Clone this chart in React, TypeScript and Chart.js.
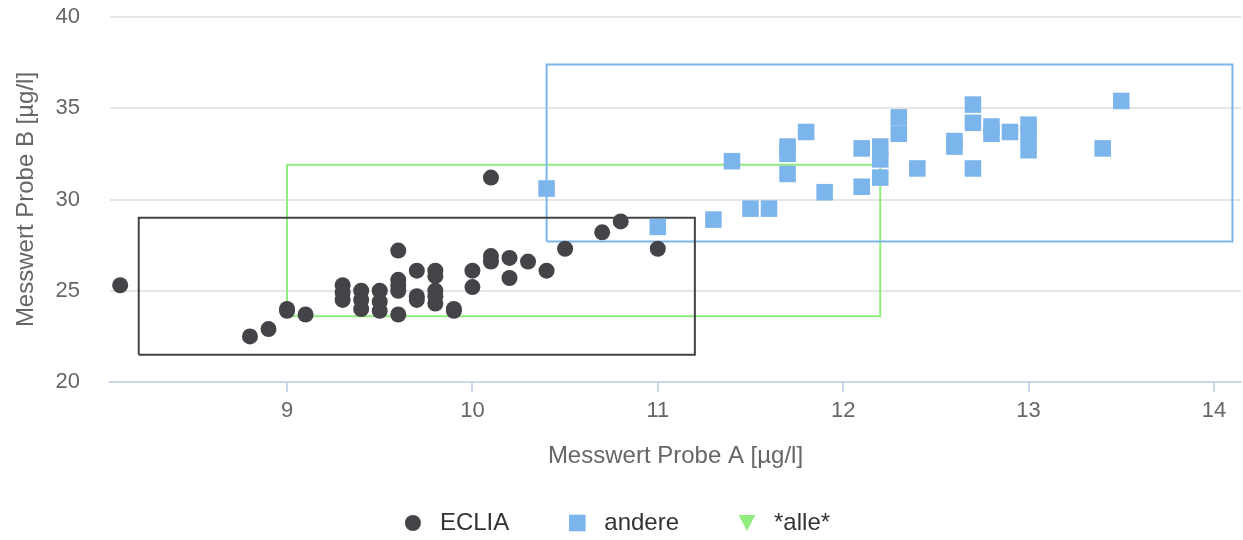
import React, { useEffect, useRef } from 'react';
import { Chart, registerables } from 'chart.js';

Chart.register(...registerables);

// ---- data ----
const seriesNames = ['ECLIA', 'andere', '*alle*'];

const ecliaX = [8.1, 8.8, 8.9, 9.0, 9.0, 9.1, 9.3, 9.3, 9.3, 9.4, 9.4, 9.4, 9.5, 9.5, 9.5, 9.6, 9.6, 9.6, 9.6, 9.6, 9.7, 9.7, 9.7, 9.8, 9.8, 9.8, 9.8, 9.8, 9.9, 9.9, 10.0, 10.0, 10.1, 10.1, 10.1, 10.2, 10.2, 10.3, 10.4, 10.5, 10.7, 10.8, 11.0];
const ecliaY = [25.3, 22.5, 22.9, 24.0, 23.9, 23.7, 25.3, 24.9, 24.5, 25.0, 24.5, 24.0, 25.0, 24.4, 23.9, 27.2, 25.6, 25.3, 25.0, 23.7, 26.1, 24.7, 24.5, 26.1, 25.8, 25.0, 24.7, 24.3, 24.0, 23.9, 26.1, 25.2, 31.2, 26.9, 26.6, 26.8, 25.7, 26.6, 26.1, 27.3, 28.2, 28.8, 27.3];

const andereX = [10.4, 11.0, 11.3, 11.4, 11.5, 11.6, 11.7, 11.7, 11.7, 11.8, 11.9, 12.1, 12.1, 12.2, 12.2, 12.2, 12.3, 12.3, 12.4, 12.6, 12.6, 12.7, 12.7, 12.7, 12.8, 12.8, 12.9, 13.0, 13.0, 13.0, 13.4, 13.5];
const andereY = [30.6, 28.5, 28.9, 32.1, 29.5, 29.5, 32.9, 32.5, 31.4, 33.7, 30.4, 32.8, 30.7, 32.9, 32.2, 31.2, 34.5, 33.6, 31.7, 33.2, 32.9, 35.2, 34.2, 31.7, 34.0, 33.6, 33.7, 34.1, 33.6, 32.7, 32.8, 35.4];

// range boxes: [xMin, xMax, yMin, yMax]
const ecliaBox = [8.2, 11.2, 21.5, 29.0];
const andereBox = [10.4, 14.1, 27.7, 37.4];
const alleBox = [9.0, 12.2, 23.6, 31.9];

const xRange = [8.045, 14.146];
const xTicks = [9, 10, 11, 12, 13, 14];
const yRange = [20, 40];
const yStep = 5;

const xTitle = 'Messwert Probe A [µg/l]';
const yTitle = 'Messwert Probe B [µg/l]';

// ---- styles ----
const FONT = '"Liberation Sans", Arial, Helvetica, sans-serif';
const C_ECLIA = '#434348';
const C_ANDERE = '#7cb5ec';
const C_ALLE = '#90ed7d';

const toPoints = (xs: number[], ys: number[]) => xs.map((x, i) => ({ x, y: ys[i] }));
const boxPoints = (b: number[]) => [
  { x: b[0], y: b[2] },
  { x: b[1], y: b[2] },
  { x: b[1], y: b[3] },
  { x: b[0], y: b[3] },
  { x: b[0], y: b[2] },
];

const legendPlugin = {
  id: 'hcLegend',
  afterDraw(chart: any) {
    const ctx = chart.ctx as CanvasRenderingContext2D;
    const items = chart.data.datasets.filter((d: any) => d.legendSymbol);
    ctx.save();
    ctx.font = '24px ' + FONT;
    const symToText = 27;
    const gap = 68;
    const half = 8;
    const widths = items.map((d: any) => ctx.measureText(d.label).width);
    let total = half;
    items.forEach((_: any, i: number) => {
      total += symToText + widths[i];
    });
    total += gap * (items.length - 1);
    let x = chart.width / 2 - 4 - total / 2 + half;
    const cy = chart.height - 17;
    const baseline = chart.height - 10;
    items.forEach((d: any, i: number) => {
      ctx.fillStyle = d.legendColor;
      ctx.beginPath();
      if (d.legendSymbol === 'circle') {
        ctx.arc(x, cy, 8, 0, Math.PI * 2);
      } else if (d.legendSymbol === 'square') {
        ctx.rect(x - 8.3, cy - 8.3, 16.6, 16.6);
      } else {
        ctx.moveTo(x - 8.3, cy - 8);
        ctx.lineTo(x + 8.3, cy - 8);
        ctx.lineTo(x, cy + 8);
        ctx.closePath();
      }
      ctx.fill();
      ctx.fillStyle = '#333333';
      ctx.textBaseline = 'alphabetic';
      ctx.textAlign = 'left';
      ctx.fillText(d.label, x + symToText, baseline);
      x += symToText + widths[i] + gap;
    });
    ctx.restore();
  },
};

export default function App() {
  const ref = useRef<HTMLCanvasElement | null>(null);

  useEffect(() => {
    document.body.style.margin = '0';
    const canvas = ref.current;
    if (!canvas) return;
    Chart.defaults.font.family = FONT;

    const chart = new Chart(canvas, {
      type: 'scatter',
      data: {
        datasets: [
          {
            label: seriesNames[0],
            data: toPoints(ecliaX, ecliaY),
            backgroundColor: C_ECLIA,
            borderWidth: 0,
            pointStyle: 'circle',
            pointRadius: 8,
            legendSymbol: 'circle',
            legendColor: C_ECLIA,
          } as any,
          {
            label: seriesNames[1],
            data: toPoints(andereX, andereY),
            backgroundColor: C_ANDERE,
            borderWidth: 0,
            pointStyle: 'rect',
            pointRadius: 11.7,
            legendSymbol: 'square',
            legendColor: C_ANDERE,
          } as any,
          {
            label: seriesNames[2],
            data: [],
            backgroundColor: C_ALLE,
            pointStyle: 'triangle',
            rotation: 180,
            legendSymbol: 'triangle',
            legendColor: C_ALLE,
          } as any,
          {
            label: 'ECLIA range',
            data: boxPoints(ecliaBox),
            showLine: true,
            borderColor: C_ECLIA,
            borderWidth: 2,
            borderJoinStyle: 'miter',
            pointRadius: 0,
            tension: 0,
          } as any,
          {
            label: 'andere range',
            data: boxPoints(andereBox),
            showLine: true,
            borderColor: C_ANDERE,
            borderWidth: 2,
            borderJoinStyle: 'miter',
            pointRadius: 0,
            tension: 0,
          } as any,
          {
            label: 'alle range',
            data: boxPoints(alleBox),
            showLine: true,
            borderColor: C_ALLE,
            borderWidth: 2,
            borderJoinStyle: 'miter',
            pointRadius: 0,
            tension: 0,
          } as any,
        ],
      },
      options: {
        responsive: false,
        animation: false,
        layout: { autoPadding: false, padding: { left: 0, right: 2, top: 17, bottom: 60 } },
        plugins: {
          legend: { display: false },
          tooltip: { enabled: false },
        },
        scales: {
          x: {
            type: 'linear',
            min: xRange[0],
            max: xRange[1],
            afterBuildTicks: (axis: any) => {
              axis.ticks = xTicks.map((v) => ({ value: v }));
            },
            afterFit: (axis: any) => {
              axis.height = 540 - 60 - 382;
              axis.paddingLeft = 0;
              axis.paddingRight = 0;
            },
            grid: {
              drawOnChartArea: false,
              drawTicks: true,
              tickLength: 10,
              color: '#ccd6eb',
              lineWidth: 2,
            },
            border: { display: true, color: '#ccd6eb', width: 2 },
            ticks: {
              color: '#666666',
              font: { size: 22 },
              padding: 6,
              maxRotation: 0,
            },
            title: {
              display: true,
              text: xTitle,
              color: '#666666',
              font: { size: 24 },
              padding: { top: 0, bottom: 9 },
            },
          },
          y: {
            type: 'linear',
            min: yRange[0],
            max: yRange[1],
            ticks: {
              stepSize: yStep,
              color: '#666666',
              font: { size: 22 },
              padding: 30,
            },
            afterFit: (axis: any) => {
              axis.width = 110;
              axis.paddingTop = 0;
              axis.paddingBottom = 0;
              axis.paddingLeft = 0;
              axis.paddingRight = 0;
            },
            grid: {
              color: '#e6e6e6',
              lineWidth: 2,
              drawTicks: false,
            },
            border: { display: false },
            title: {
              display: true,
              text: yTitle,
              color: '#666666',
              font: { size: 24 },
              padding: { top: 12, bottom: 0 },
            },
          },
        },
      } as any,
      plugins: [legendPlugin],
    });

    return () => chart.destroy();
  }, []);

  return (
    <div style={{ width: 1243, height: 540, position: 'relative', background: '#ffffff' }}>
      <canvas ref={ref} width={1243} height={540} style={{ width: 1243, height: 540, display: 'block' }} />
    </div>
  );
}
